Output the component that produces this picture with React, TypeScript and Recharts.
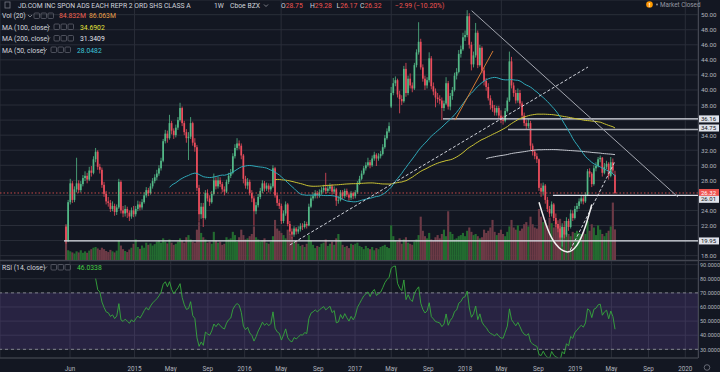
// JD.com weekly chart (TradingView style) rebuilt with Recharts

import React from 'react';
import {
  ComposedChart, Bar, Line, XAxis, YAxis, CartesianGrid,
  ReferenceLine, ReferenceArea,
} from 'recharts';

// ---- data (weekly candles from the week of 19 May 2014) ----
const closes = [
  20.0, 25.1, 27.6, 25.4, 26.8, 27.6, 26.7, 27.5, 28.3, 28.6,
  28.1, 29.3, 29.0, 30.8, 31.8, 29.8, 29.4, 27.4, 26.2, 25.2,
  25.0, 24.2, 24.6, 23.8, 24.4, 27.8, 24.0, 23.6, 24.2, 23.7,
  23.2, 24.0, 23.5, 24.2, 24.8, 24.4, 25.1, 26.0, 26.7, 26.3,
  27.2, 27.9, 28.4, 28.9, 29.6, 30.6, 33.2, 34.2, 33.6, 35.6,
  34.6, 34.0, 35.0, 36.0, 37.6, 35.6, 34.4, 33.6, 33.8, 35.6,
  33.0, 32.4, 27.0, 23.5, 24.5, 23.0, 26.3, 25.6, 25.1, 26.2,
  28.0, 27.2, 28.0, 27.5, 26.8, 26.5, 27.8, 28.6, 29.0, 31.2,
  32.3, 32.9, 32.6, 31.3, 28.2, 27.3, 27.8, 26.3, 25.6, 23.9,
  24.7, 25.8, 26.6, 27.6, 26.9, 27.3, 26.8, 27.2, 29.6, 26.0,
  25.0, 24.6, 22.6, 23.6, 24.8, 22.2, 21.2, 20.8, 21.6, 21.2,
  21.5, 21.9, 21.8, 22.2, 22.0, 24.5, 25.6, 25.9, 26.3, 26.0,
  26.4, 26.7, 27.0, 26.6, 26.9, 27.2, 26.5, 26.8, 25.3, 25.4,
  26.4, 25.9, 26.6, 26.1, 25.7, 26.3, 25.9, 26.4, 27.6, 28.2,
  28.9, 29.6, 30.0, 30.4, 30.0, 30.9, 31.4, 30.9, 31.2, 31.5,
  32.4, 33.6, 34.5, 35.2, 39.6, 40.9, 41.3, 39.4, 38.8, 38.5,
  42.8, 39.6, 41.5, 40.6, 40.2, 43.3, 45.0, 46.4, 43.0, 41.5,
  40.6, 41.3, 44.2, 40.5, 39.8, 39.0, 38.8, 38.6, 37.6, 38.2,
  40.9, 37.8, 39.2, 40.0, 41.9, 42.4, 44.8, 45.4, 47.0, 47.3,
  49.8, 46.0, 43.4, 44.6, 47.6, 43.3, 45.6, 42.6, 41.2, 40.4,
  38.9, 38.0, 37.6, 37.0, 37.6, 36.6, 36.0, 35.9, 37.2, 38.6,
  43.8, 40.6, 39.6, 38.6, 39.6, 38.2, 36.6, 35.6, 35.2, 35.6,
  32.6, 31.8, 31.2, 30.8, 27.0, 26.5, 27.3, 25.4, 24.2, 23.6,
  24.8, 23.0, 22.2, 21.6, 20.4, 21.8, 20.8, 22.6, 21.8, 23.6,
  23.0, 24.2, 24.6, 25.2, 25.6, 25.2, 26.0, 29.2, 28.9, 27.5,
  29.6, 29.9, 30.8, 31.0, 29.0, 29.8, 30.2, 28.6, 30.4, 29.31,
  26.32,
];

const highs = [
  22.0, 25.4, 28.2, 27.9, 27.2, 31.0, 28.0, 27.9, 28.7, 29.2,
  29.0, 29.8, 29.9, 31.2, 32.3, 32.0, 30.2, 29.7, 27.8, 26.6,
  25.8, 25.4, 25.2, 24.9, 24.8, 28.2, 28.0, 24.6, 24.7, 24.5,
  24.0, 24.4, 24.6, 24.6, 25.3, 25.2, 25.5, 26.4, 27.1, 27.0,
  27.6, 28.3, 28.8, 29.4, 30.0, 31.0, 33.5, 34.7, 34.6, 36.7,
  35.9, 34.9, 35.4, 36.4, 38.3, 37.8, 35.9, 34.8, 34.4, 36.4,
  35.8, 33.6, 32.7, 27.4, 25.0, 25.0, 26.7, 26.8, 26.0, 26.6,
  28.9, 28.4, 28.5, 28.4, 27.8, 27.2, 28.1, 29.0, 29.5, 31.6,
  32.8, 33.6, 33.3, 32.9, 31.5, 28.6, 28.3, 28.1, 26.7, 25.9,
  25.1, 26.2, 27.0, 28.0, 27.9, 27.7, 27.6, 27.6, 30.0, 29.8,
  26.3, 25.5, 24.9, 24.0, 25.2, 25.0, 22.6, 21.6, 21.9, 21.8,
  21.9, 22.3, 22.3, 22.6, 22.5, 24.9, 25.9, 26.4, 26.7, 26.6,
  26.8, 27.1, 27.4, 29.0, 27.3, 27.6, 27.5, 27.2, 27.0, 25.9,
  26.7, 26.7, 26.9, 26.9, 26.4, 26.6, 26.5, 26.7, 27.9, 28.6,
  29.3, 29.9, 30.4, 31.0, 30.7, 31.3, 31.8, 31.6, 31.6, 31.9,
  32.8, 34.0, 34.9, 35.7, 40.4, 41.6, 41.8, 41.5, 39.9, 39.3,
  43.2, 43.6, 41.9, 42.2, 41.0, 43.6, 45.4, 49.0, 46.8, 43.4,
  41.9, 41.7, 45.0, 44.5, 41.0, 40.2, 39.6, 39.3, 39.0, 38.6,
  41.7, 41.2, 39.6, 40.4, 42.3, 42.9, 45.3, 45.9, 47.6, 47.9,
  50.6, 50.2, 46.4, 45.1, 48.9, 47.9, 46.0, 45.8, 43.0, 41.6,
  40.9, 39.3, 38.6, 38.0, 37.9, 37.9, 37.3, 36.6, 37.6, 39.0,
  45.1, 44.4, 41.0, 40.0, 40.2, 40.0, 38.5, 37.0, 36.0, 36.1,
  35.9, 32.9, 32.1, 31.6, 30.9, 27.6, 27.7, 27.5, 25.8, 24.6,
  25.2, 25.0, 23.6, 22.7, 22.0, 22.3, 22.6, 23.1, 22.9, 24.1,
  24.0, 24.6, 25.0, 25.6, 26.0, 26.0, 26.4, 29.5, 29.6, 29.1,
  30.0, 30.4, 31.1, 31.3, 31.1, 30.3, 30.6, 30.4, 31.1, 30.9,
  29.28,
];

const lows = [
  19.6, 19.8, 24.8, 25.0, 25.1, 26.4, 26.3, 26.4, 27.2, 27.9,
  27.6, 27.9, 28.5, 28.8, 30.4, 29.4, 28.9, 27.0, 25.8, 24.8,
  24.5, 23.8, 23.9, 23.3, 23.4, 24.2, 23.6, 23.1, 23.2, 23.0,
  22.6, 22.9, 23.1, 23.2, 23.9, 24.0, 24.1, 24.9, 25.7, 25.9,
  26.1, 26.9, 27.6, 28.0, 28.6, 29.3, 30.4, 32.9, 33.0, 33.4,
  34.1, 33.5, 33.7, 34.7, 35.8, 35.2, 34.0, 33.0, 30.7, 33.5,
  32.6, 31.8, 26.6, 22.5, 22.9, 21.8, 22.8, 25.2, 24.6, 24.9,
  26.0, 26.8, 26.9, 27.1, 26.4, 26.0, 26.3, 27.5, 28.3, 28.8,
  30.9, 32.0, 32.1, 30.8, 27.6, 26.9, 26.8, 26.0, 25.1, 22.0,
  23.5, 24.4, 25.5, 26.3, 26.5, 26.6, 26.4, 26.5, 27.0, 25.7,
  24.6, 24.2, 22.2, 22.3, 23.3, 21.9, 20.8, 20.3, 20.5, 20.8,
  20.9, 21.2, 21.4, 21.6, 21.6, 21.9, 24.3, 25.3, 25.6, 25.6,
  25.7, 26.1, 26.4, 26.2, 26.3, 26.6, 26.1, 26.2, 24.6, 24.9,
  25.2, 25.5, 25.6, 25.8, 25.3, 25.4, 25.5, 25.6, 26.2, 27.4,
  28.0, 28.7, 29.3, 29.8, 29.6, 29.8, 30.6, 29.9, 30.6, 30.9,
  31.3, 32.2, 33.4, 34.3, 37.6, 39.3, 40.5, 39.0, 36.9, 38.0,
  38.3, 39.1, 39.3, 40.2, 39.7, 40.0, 43.0, 44.7, 42.7, 41.1,
  40.0, 40.2, 41.0, 40.1, 39.3, 37.7, 38.3, 38.1, 36.0, 37.2,
  38.0, 37.4, 37.3, 38.7, 39.8, 41.4, 42.2, 44.3, 45.2, 46.5,
  47.0, 45.5, 42.6, 43.0, 44.3, 42.9, 43.1, 42.2, 40.6, 39.9,
  38.6, 37.4, 37.1, 36.6, 36.6, 36.2, 35.6, 35.4, 35.7, 37.0,
  38.4, 40.2, 39.1, 38.2, 38.3, 37.8, 36.2, 35.2, 34.8, 34.9,
  32.0, 31.3, 30.8, 30.3, 26.6, 25.8, 26.0, 24.9, 23.8, 23.1,
  23.2, 22.6, 21.8, 21.1, 20.0, 19.2, 20.3, 20.5, 21.3, 21.6,
  22.6, 22.8, 23.8, 24.2, 24.9, 24.8, 25.0, 25.9, 28.4, 27.1,
  27.3, 29.2, 29.7, 30.4, 28.5, 28.8, 29.5, 28.1, 28.4, 28.9,
  26.17,
];

// weeks that opened away from the previous close
const openGaps: Record<number, number> = { 0: 21.8, 154: 37.8, 260: 28.75 };

// weekly volume, millions
const volumes = [
  99, 27, 24, 21, 18, 24, 21, 27, 20, 24,
  20, 26, 30, 34, 36, 32, 28, 34, 30, 25,
  22, 28, 24, 21, 26, 54, 40, 30, 25, 22,
  29, 34, 45, 57, 36, 31, 40, 34, 48, 42,
  46, 40, 44, 51, 54, 48, 60, 51, 46, 57,
  48, 42, 45, 51, 60, 54, 48, 63, 69, 57,
  51, 48, 84, 105, 75, 63, 57, 48, 51, 45,
  78, 54, 48, 51, 42, 45, 63, 57, 60, 78,
  69, 51, 63, 84, 69, 57, 60, 66, 72, 93,
  63, 57, 51, 54, 60, 48, 45, 51, 66, 111,
  87, 81, 75, 69, 60, 84, 72, 63, 51, 54,
  45, 39, 42, 36, 45, 69, 54, 42, 33, 39,
  36, 45, 48, 57, 39, 45, 51, 42, 60, 72,
  54, 42, 36, 39, 33, 45, 42, 45, 48, 39,
  36, 30, 39, 33, 30, 36, 27, 33, 30, 36,
  39, 42, 36, 33, 96, 66, 54, 51, 60, 45,
  57, 63, 48, 45, 42, 51, 57, 69, 120, 81,
  66, 60, 75, 57, 54, 63, 69, 60, 72, 84,
  66, 135, 78, 72, 57, 60, 66, 69, 75, 66,
  81, 90, 78, 69, 72, 66, 60, 63, 84, 75,
  81, 90, 111, 78, 69, 75, 84, 72, 66, 78,
  93, 111, 90, 84, 96, 81, 87, 99, 105, 93,
  120, 99, 90, 87, 141, 120, 105, 111, 96, 117,
  102, 90, 105, 99, 114, 93, 84, 75, 72, 66,
  78, 75, 81, 75, 72, 78, 72, 108, 81, 99,
  90, 69, 96, 84, 72, 66, 75, 81, 93, 159,
  84.83,
];

// hand-drawn cup (week, price)
const cupPoints: [number, number][] = [
  [224, 25.1], [228, 21.6], [232, 19.5], [237, 18.5], [242, 19.4], [246, 21.9], [249, 24.8],
];

// trend lines: [week, price] -> [week, price]
const trendLines = [
  { from: [192.1, 50.53], to: [289.8, 25.79], color: '#a3a6af', dash: undefined },
  { from: [106.0, 19.42], to: [247.2, 43.05], color: '#d1d4dc', dash: '3 2' },
  { from: [238.8, 18.75], to: [259.9, 30.48], color: '#d1d4dc', dash: '3 2' },
  { from: [184.2, 36.0], to: [202.2, 45.18], color: '#d27a32', dash: undefined },
];

// horizontal levels drawn on the chart
const levels = [
  { price: 36.16, fromWeek: 178.5, color: '#e0e3eb', width: 1.3 },
  { price: 34.75, fromWeek: 209.3, color: '#a9acb4', width: 1.6 },
  { price: 26.01, fromWeek: 230.6, color: '#e0e3eb', width: 1.2 },
  { price: 19.95, fromWeek: -1, color: '#e0e3eb', width: 1.3 },
];

// price tags on the right scale
const tags = [
  { price: 36.16, text: '36.16', bg: '#e0e3eb', fg: '#131722', shift: 0 },
  { price: 34.75, text: '34.75', bg: '#e0e3eb', fg: '#131722', shift: -1.5 },
  { price: 26.32, text: '26.32', bg: '#ef5350', fg: '#ffffff', shift: -0.5 },
  { price: 26.01, text: '26.01', bg: '#e0e3eb', fg: '#131722', shift: 4 },
  { price: 19.95, text: '19.95', bg: '#e0e3eb', fg: '#131722', shift: 0 },
];

const xTickLabels = ['Jun', '2015', 'May', 'Sep', '2016', 'May', 'Sep', '2017', 'May', 'Sep', '2018', 'May', 'Sep', '2019', 'May', 'Sep', '2020'];
const xTickDates: [number, number][] = [
  [2014, 5], [2015, 0], [2015, 4], [2015, 8], [2016, 0], [2016, 4], [2016, 8], [2017, 0],
  [2017, 4], [2017, 8], [2018, 0], [2018, 4], [2018, 8], [2019, 0], [2019, 4], [2019, 8], [2020, 0],
];
const priceTicks = [18, 20, 22, 24, 26, 28, 30, 32, 34, 36, 38, 40, 42, 44, 46, 48, 50];
const rsiTicks = [30, 40, 50, 60, 70, 80, 90];

// ---- helpers ----
const START = Date.UTC(2014, 4, 19);
const WEEK = 7 * 86400000;
const xTicks = xTickDates.map(([y, m]) => (Date.UTC(y, m, 1) - START) / WEEK);

const X_DOMAIN: [number, number] = [-31.3, 299.3];
const PRICE_DOMAIN: [number, number] = [17.42, 51.95];
const RSI_DOMAIN: [number, number] = [23.85, 92.6];

const BG = '#131722';
const GRID = '#2a2e39';
const AXIS_TEXT = '#b2b5be';
const UP = '#53b987';
const DOWN = '#eb4d5c';
const FONT = 'Roboto, "Noto Sans", "DejaVu Sans", sans-serif';

function sma(vals: number[], n: number) {
  return vals.map((_, i) => {
    if (i < n - 1) return null;
    let s = 0;
    for (let k = i - n + 1; k <= i; k++) s += vals[k];
    return s / n;
  });
}

function rsi(vals: number[], n: number) {
  const out: (number | null)[] = vals.map(() => null);
  let g = 0, l = 0;
  for (let i = 1; i <= n; i++) {
    const d = vals[i] - vals[i - 1];
    if (d > 0) g += d; else l -= d;
  }
  g /= n; l /= n;
  out[n] = l === 0 ? 100 : 100 - 100 / (1 + g / l);
  for (let i = n + 1; i < vals.length; i++) {
    const d = vals[i] - vals[i - 1];
    g = (g * (n - 1) + Math.max(d, 0)) / n;
    l = (l * (n - 1) + Math.max(-d, 0)) / n;
    out[i] = l === 0 ? 100 : 100 - 100 / (1 + g / l);
  }
  return out;
}

const ma50 = sma(closes, 50);
const ma100 = sma(closes, 100);
const ma200 = sma(closes, 200);
const rsi14 = rsi(closes, 14);
const cupMap = new Map(cupPoints.map(([w, p]) => [w, p]));

const rows = closes.map((close, i) => {
  const open = openGaps[i] ?? closes[i - 1];
  return {
    w: i,
    open,
    close,
    high: highs[i],
    low: lows[i],
    range: [lows[i], highs[i]],
    vol: volumes[i],
    up: close >= open,
    ma50: ma50[i],
    ma100: ma100[i],
    ma200: ma200[i],
    rsi: rsi14[i],
    cup: cupMap.has(i) ? cupMap.get(i) : null,
  };
});

// ---- shapes ----
const Candle = (props: any) => {
  const { x, y, width, height, payload } = props;
  if (!payload || height == null) return null;
  const top = Math.min(y, y + height);
  const h = Math.abs(height);
  const { open, close, high, low } = payload;
  const ppu = high > low ? h / (high - low) : 0;
  const cx = x + width / 2;
  const yO = top + (high - open) * ppu;
  const yC = top + (high - close) * ppu;
  const color = close >= open ? UP : DOWN;
  const bt = Math.min(yO, yC);
  const bh = Math.max(Math.abs(yO - yC), 0.8);
  return (
    <g>
      <line x1={cx} x2={cx} y1={top} y2={top + h} stroke={color} strokeWidth={0.8} />
      <rect x={cx - 0.85} y={bt} width={1.7} height={bh} fill={color} />
    </g>
  );
};

const VolBar = (props: any) => {
  const { x, y, width, height, payload } = props;
  if (!payload || !height) return null;
  const cx = x + width / 2;
  return <rect x={cx - 1.06} y={y} width={2.12} height={height} fill={payload.up ? '#236b30' : '#6c3a46'} />;
};

const PriceTick = (props: any) => {
  const v = Number(props.payload.value);
  if (tags.some((t) => Math.abs(t.price - v) < 0.5)) return <g />;
  return (
    <text x={701} y={props.y} dy={2.5} fontSize={6.2} fill={AXIS_TEXT} fontFamily={FONT}>
      {v.toFixed(2)}
    </text>
  );
};

const RsiTick = (props: any) => (
  <text x={700} y={props.y} dy={2.2} fontSize={5.5} fill={AXIS_TEXT} fontFamily={FONT}>
    {Number(props.payload.value).toFixed(4)}
  </text>
);

const DateTick = (props: any) => {
  const idx = xTicks.findIndex((t) => Math.abs(t - props.payload.value) < 1e-6);
  return (
    <text x={props.x} y={110} textAnchor="middle" fontSize={6.3} fill={AXIS_TEXT} fontFamily={FONT}>
      {xTickLabels[idx]}
    </text>
  );
};

const makeTag = (t: typeof tags[number]) => (p: any) => {
  const vb = p.viewBox || {};
  const right = (vb.x || 0) + (vb.width || 0);
  const cy = (vb.y || 0) + (vb.height || 0) / 2 + t.shift;
  return (
    <g>
      <rect x={right + 1} y={cy - 3.5} width={20} height={7} fill={t.bg} />
      <text x={right + 3} y={cy + 2.1} fontSize={6} fill={t.fg} fontFamily={FONT}>{t.text}</text>
    </g>
  );
};

// ---- charts ----
function PriceChart() {
  return (
    <ComposedChart width={720} height={260} data={rows} margin={{ top: 0, right: 0, bottom: 0, left: 0 }}>
      <XAxis xAxisId="p" dataKey="w" type="number" domain={X_DOMAIN} ticks={xTicks} allowDataOverflow hide />
      <XAxis xAxisId="v" dataKey="w" type="number" domain={X_DOMAIN} allowDataOverflow hide />
      <YAxis
        yAxisId="p"
        orientation="right"
        width={22}
        domain={PRICE_DOMAIN}
        ticks={priceTicks}
        interval={0}
        allowDataOverflow
        axisLine={false}
        tickLine={false}
        tick={PriceTick}
      />
      <YAxis yAxisId="v" domain={[0, 720]} allowDataOverflow hide />
      <CartesianGrid xAxisId="p" yAxisId="p" stroke={GRID} strokeWidth={1} />

      <Bar xAxisId="v" yAxisId="v" dataKey="vol" barSize={2} shape={VolBar} isAnimationActive={false} />

      <ReferenceLine xAxisId="p" yAxisId="p" y={26.32} stroke="#ef5350" strokeDasharray="1.5 2" strokeWidth={0.8} />
      {levels.map((l) => (
        <ReferenceLine
          key={l.price}
          xAxisId="p"
          yAxisId="p"
          segment={[{ x: l.fromWeek, y: l.price }, { x: X_DOMAIN[1], y: l.price }]}
          stroke={l.color}
          strokeWidth={l.width}
        />
      ))}

      <Line xAxisId="p" yAxisId="p" dataKey="ma200" stroke="#c3c6ce" strokeWidth={1} dot={false} activeDot={false} isAnimationActive={false} />
      <Line xAxisId="p" yAxisId="p" dataKey="ma100" stroke="#c9c234" strokeWidth={1} dot={false} activeDot={false} isAnimationActive={false} />
      <Line xAxisId="p" yAxisId="p" dataKey="ma50" stroke="#2fa9b9" strokeWidth={1} dot={false} activeDot={false} isAnimationActive={false} />

      <Bar xAxisId="p" yAxisId="p" dataKey="range" barSize={2} shape={Candle} isAnimationActive={false} />

      {trendLines.map((t, i) => (
        <ReferenceLine
          key={i}
          xAxisId="p"
          yAxisId="p"
          segment={[{ x: t.from[0], y: t.from[1] }, { x: t.to[0], y: t.to[1] }]}
          stroke={t.color}
          strokeDasharray={t.dash}
          strokeWidth={1}
        />
      ))}
      <Line
        xAxisId="p"
        yAxisId="p"
        dataKey="cup"
        type="natural"
        connectNulls
        stroke="#f0f0f0"
        strokeWidth={1.5}
        dot={false}
        activeDot={false}
        isAnimationActive={false}
      />

      {tags.map((t) => (
        <ReferenceLine key={t.text} xAxisId="p" yAxisId="p" y={t.price} stroke="none" label={makeTag(t)} />
      ))}
    </ComposedChart>
  );
}

function RsiChart() {
  return (
    <ComposedChart width={720} height={111} data={rows} margin={{ top: 0, right: 0, bottom: 0, left: 0 }}>
      <XAxis
        dataKey="w"
        type="number"
        domain={X_DOMAIN}
        ticks={xTicks}
        allowDataOverflow
        height={14}
        axisLine={{ stroke: '#434651' }}
        tickLine={false}
        tick={DateTick}
        interval={0}
      />
      <YAxis
        orientation="right"
        width={22}
        domain={RSI_DOMAIN}
        ticks={rsiTicks}
        interval={0}
        allowDataOverflow
        axisLine={false}
        tickLine={false}
        tick={RsiTick}
      />
      <ReferenceArea y1={30} y2={70} fill="#7e57c2" fillOpacity={0.2} stroke="none" />
      <CartesianGrid stroke={GRID} strokeWidth={1} />
      <ReferenceLine y={70} stroke="#9598a1" strokeDasharray="3 3" strokeWidth={0.8} />
      <ReferenceLine y={30} stroke="#9598a1" strokeDasharray="3 3" strokeWidth={0.8} />
      <Line dataKey="rsi" stroke="#36a83c" strokeWidth={0.9} dot={false} activeDot={false} isAnimationActive={false} />
    </ComposedChart>
  );
}

// ---- legend overlay ----
const Icons = ({ x, y }: { x: number; y: number }) => (
  <g>
    {[0, 7, 14].map((dx) => (
      <rect key={dx} x={x + dx} y={y - 3} width={5.5} height={5.5} rx={1} fill="none" stroke="#5d606b" strokeWidth={0.8} />
    ))}
  </g>
);

const Chevron = ({ x, y }: { x: number; y: number }) => (
  <path d={`M${x} ${y - 1} l2 2 l2 -2`} stroke="#9598a1" fill="none" strokeWidth={0.8} />
);

function Overlay() {
  const t = { fontFamily: FONT, fontSize: 6.8 };
  const red = '#ef5350';
  const white = '#d1d4dc';
  return (
    <svg width={720} height={372} style={{ position: 'absolute', left: 0, top: 0, pointerEvents: 'none' }}>
      <rect x={5} y={2} width={5} height={6} fill="none" stroke="#787b86" strokeWidth={0.8} />
      <text x={18} y={7.8} {...t} fill={white}>JD.COM INC SPON ADS EACH REPR 2 ORD SHS CLASS A</text>
      <text x={214} y={7.8} {...t} fill={white}>1W</text>
      <text x={230} y={7.8} {...t} fill={white}>Cboe BZX</text>
      <Chevron x={264} y={5.5} />
      <text x={281} y={7.8} {...t} fill={white}>O<tspan fill={red}>28.75</tspan></text>
      <text x={310} y={7.8} {...t} fill={white}>H<tspan fill={red}>29.28</tspan></text>
      <text x={336.5} y={7.8} {...t} fill={white}>L<tspan fill={red}>26.17</tspan></text>
      <text x={360} y={7.8} {...t} fill={white}>C<tspan fill={red}>26.32</tspan></text>
      <text x={395} y={7.8} {...t} fill={red}>−2.99 (−10.20%)</text>

      <text x={2} y={18.3} {...t} fill={white}>Vol (20)</text>
      <Chevron x={28} y={16} />
      <Icons x={34} y={16} />
      <text x={59} y={18.3} {...t} fill="#f0614f">84.832M</text>
      <text x={89} y={18.3} {...t} fill="#eaa04a">86.063M</text>

      <text x={2} y={29.5} {...t} fill={white}>MA (100, close)</text>
      <Chevron x={46} y={27} />
      <Icons x={54} y={27} />
      <text x={80} y={29.5} {...t} fill="#e3e33a">34.6902</text>

      <text x={2} y={41} {...t} fill={white}>MA (200, close)</text>
      <Chevron x={46} y={38.5} />
      <Icons x={54} y={38.5} />
      <text x={80} y={41} {...t} fill="#e0e3eb">31.3409</text>

      <text x={2} y={52.5} {...t} fill={white}>MA (50, close)</text>
      <Chevron x={43} y={50} />
      <Icons x={51} y={50} />
      <text x={77} y={52.5} {...t} fill="#3cc3d6">28.0482</text>

      <text x={2} y={270} {...t} fill={white}>RSI (14, close)</text>
      <Chevron x={43} y={267.5} />
      <Icons x={51} y={267.5} />
      <text x={77} y={270} {...t} fill="#46d046">46.0338</text>

      <circle cx={649.5} cy={4.5} r={3.3} fill="#ff9800" />
      <text x={649.5} y={6.8} textAnchor="middle" fontFamily={FONT} fontSize={6} fontWeight="bold" fill="#ffffff">!</text>
      <circle cx={657} cy={4.5} r={0.9} fill="#9598a1" />
      <text x={660} y={7} fontFamily={FONT} fontSize={6.3} fill="#9598a1">Market Closed</text>

      <circle cx={707} cy={367.5} r={2.8} fill="none" stroke="#787b86" strokeWidth={0.8} />
    </svg>
  );
}

export default function App() {
  return (
    <div style={{ position: 'absolute', left: 0, top: 0, width: 720, height: 372, background: BG, overflow: 'hidden', fontFamily: FONT }}>
      <div style={{ position: 'absolute', left: 0, top: 0 }}>
        <PriceChart />
      </div>
      <div style={{ position: 'absolute', left: 0, top: 261 }}>
        <RsiChart />
      </div>
      <div style={{ position: 'absolute', left: 0, top: 260, width: 720, height: 1, background: '#434651' }} />
      <div style={{ position: 'absolute', left: 698, top: 0, width: 1, height: 358, background: '#434651' }} />
      <Overlay />
    </div>
  );
}
